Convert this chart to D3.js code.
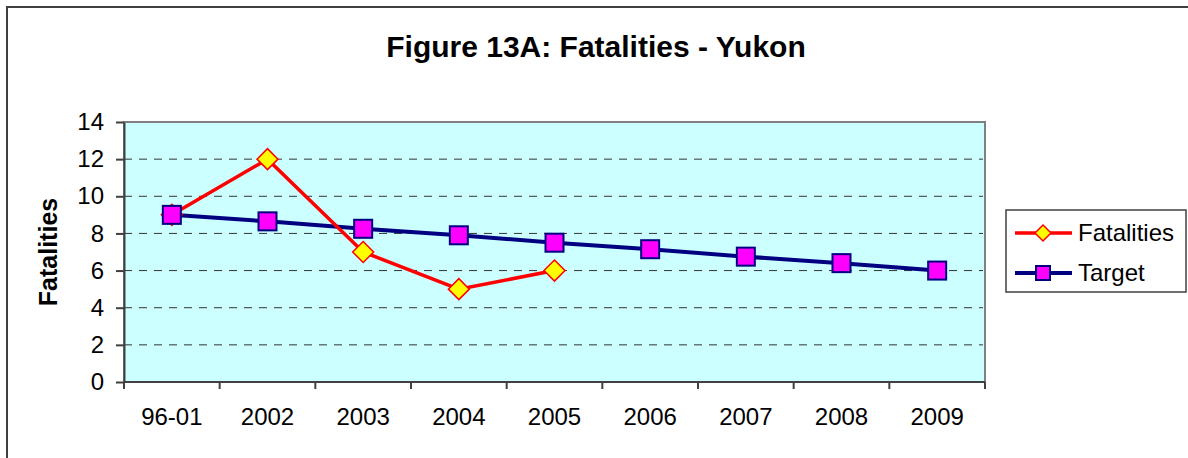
<!DOCTYPE html>
<meta charset="utf-8">
<html>
<head>
<style>
  body { margin: 0; background: #fff; }
  svg { display: block; font-family: "Liberation Sans", Arial, sans-serif; }
  .grid line { stroke: #333; stroke-width: 1px; stroke-dasharray: 8,7; }
  .axis path, .axis line { stroke: #404040; stroke-width: 2px; }
  .axis text { fill: #000; font-size: 24px; }
</style>
</head>
<body>
<svg width="1188" height="458"></svg>
<script src="https://d3js.org/d3.v7.min.js"></script>
<script>

// chart data
var categories = ["96-01", "2002", "2003", "2004", "2005", "2006", "2007", "2008", "2009"];
var fatalities = [9, 12, 7, 5, 6];
var target = [9, 8.65, 8.25, 7.9, 7.5, 7.15, 6.75, 6.4, 6.0];
var yTicks = [0, 2, 4, 6, 8, 10, 12, 14];
var seriesNames = ["Fatalities", "Target"];

var svg = d3.select("svg"),
    margin = {top: 122, right: 203, bottom: 76, left: 124},
    width = +svg.attr("width") - margin.left - margin.right,
    height = +svg.attr("height") - margin.top - margin.bottom;

// outer frame (only left + top visible in the picture)
svg.append("rect")
    .attr("x", 7).attr("y", 7)
    .attr("width", 1300).attr("height", 600)
    .attr("fill", "none")
    .attr("stroke", "#404040")
    .attr("stroke-width", 2);

svg.append("text")
    .attr("x", 596).attr("y", 57)
    .attr("text-anchor", "middle")
    .style("font-size", "30px")
    .style("font-weight", "bold")
    .text("Figure 13A: Fatalities - Yukon");

var x = d3.scaleBand().domain(categories).range([0, width]).padding(0),
    y = d3.scaleLinear().domain([0, 14]).range([height, 0]);

var g = svg.append("g")
    .attr("transform", "translate(" + margin.left + "," + margin.top + ")");

// plot background
g.append("rect")
    .attr("width", width).attr("height", height)
    .attr("fill", "#CCFFFF")
    .attr("stroke", "#808080")
    .attr("stroke-width", 2);

// dashed gridlines
g.append("g").attr("class", "grid")
  .selectAll("line")
  .data(yTicks.filter(function(d) { return d > 0 && d < 14; }))
  .enter().append("line")
    .attr("x1", 0).attr("x2", width - 2)
    .attr("y1", function(d) { return y(d); })
    .attr("y2", function(d) { return y(d); });

// y axis
var yAxis = d3.axisLeft(y).tickValues(yTicks).tickSize(8).tickPadding(12).tickSizeOuter(0);
g.append("g").attr("class", "axis").call(yAxis);

// x axis: ticks on band boundaries
var xAxisG = g.append("g").attr("class", "axis")
    .attr("transform", "translate(0," + height + ")");
xAxisG.append("line")
    .attr("x1", 0).attr("x2", width)
    .attr("y1", 0).attr("y2", 0);
xAxisG.selectAll(".tick")
  .data(d3.range(categories.length + 1))
  .enter().append("line")
    .attr("x1", function(i) { return i * x.bandwidth(); })
    .attr("x2", function(i) { return i * x.bandwidth(); })
    .attr("y1", 0).attr("y2", 7);
xAxisG.selectAll("text")
  .data(categories)
  .enter().append("text")
    .attr("x", function(d) { return x(d) + x.bandwidth() / 2; })
    .attr("y", 43)
    .attr("text-anchor", "middle")
    .text(function(d) { return d; });

// y axis title
svg.append("text")
    .attr("transform", "translate(57,252) rotate(-90)")
    .attr("text-anchor", "middle")
    .style("font-size", "25px")
    .style("font-weight", "bold")
    .text("Fatalities");

var cx = function(d, i) { return x(categories[i]) + x.bandwidth() / 2; };

var line = d3.line()
    .x(cx)
    .y(function(d) { return y(d); });

// target series
g.append("path")
    .datum(target)
    .attr("fill", "none")
    .attr("stroke", "#000080")
    .attr("stroke-width", 4)
    .attr("d", line);

// fatalities series
g.append("path")
    .datum(fatalities)
    .attr("fill", "none")
    .attr("stroke", "#FF0000")
    .attr("stroke-width", 3.5)
    .attr("d", line);

var diamond = "M0,-10.5L10.5,0L0,10.5L-10.5,0Z";

g.selectAll(".dmark")
  .data(fatalities)
  .enter().append("path")
    .attr("class", "dmark")
    .attr("d", diamond)
    .attr("transform", function(d, i) { return "translate(" + cx(d, i) + "," + y(d) + ")"; })
    .attr("fill", "#FFFF00")
    .attr("stroke", "#FF0000")
    .attr("stroke-width", 1.5);

g.selectAll(".smark")
  .data(target)
  .enter().append("rect")
    .attr("class", "smark")
    .attr("x", function(d, i) { return cx(d, i) - 9; })
    .attr("y", function(d) { return y(d) - 9; })
    .attr("width", 18).attr("height", 18)
    .attr("fill", "#FF00FF")
    .attr("stroke", "#000080")
    .attr("stroke-width", 2);

// legend
var legend = svg.append("g").attr("transform", "translate(1006,210)");
legend.append("rect")
    .attr("width", 180).attr("height", 82)
    .attr("fill", "#fff")
    .attr("stroke", "#404040")
    .attr("stroke-width", 1.5);

var items = legend.selectAll(".item")
  .data(seriesNames)
  .enter().append("g")
    .attr("transform", function(d, i) { return "translate(0," + (23 + i * 40) + ")"; });

items.append("line")
    .attr("x1", 9).attr("x2", 66)
    .attr("stroke", function(d, i) { return i ? "#000080" : "#FF0000"; })
    .attr("stroke-width", function(d, i) { return i ? 4 : 3.5; });

items.filter(function(d, i) { return i === 0; }).append("path")
    .attr("d", "M0,-8L8,0L0,8L-8,0Z")
    .attr("transform", "translate(37,0)")
    .attr("fill", "#FFFF00")
    .attr("stroke", "#FF0000")
    .attr("stroke-width", 1.5);

items.filter(function(d, i) { return i === 1; }).append("rect")
    .attr("x", 30).attr("y", -7)
    .attr("width", 14).attr("height", 14)
    .attr("fill", "#FF00FF")
    .attr("stroke", "#000080")
    .attr("stroke-width", 2);

items.append("text")
    .attr("x", 72).attr("y", 8)
    .style("font-size", "24px")
    .text(function(d) { return d; });

</script>
</body>
</html>
